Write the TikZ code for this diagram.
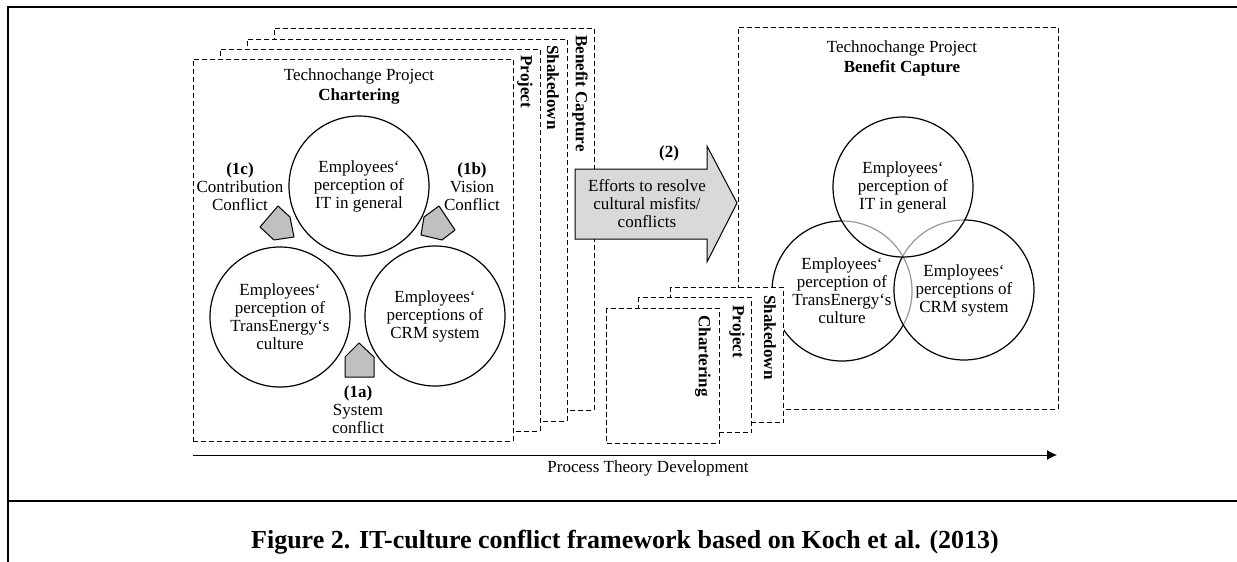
\documentclass[tikz,border=0pt]{standalone}
\usepackage{fontspec}
\setmainfont{Liberation Serif}
\usepackage{tikz}
\usetikzlibrary{arrows.meta}
\definecolor{conflictgray}{HTML}{C0C0C0}
\definecolor{effortgray}{HTML}{D9D9D9}

\begin{document}
\begin{tikzpicture}[
    x=0.5pt, y=-0.5pt,
    every node/.style={font=\fontsize{8.5}{9}\selectfont, align=center, inner sep=0pt},
    phase/.style={draw, dash pattern=on 2.5pt off 1.5pt, fill=white, line width=0.5pt, minimum width=160pt, minimum height=191pt},
    minor/.style={phase, minimum width=56.5pt, minimum height=67.5pt},
    tag/.style={rotate=-90, anchor=west, font=\bfseries\fontsize{8.5}{9}\selectfont},
    persp/.style={draw, circle, line width=0.6pt, minimum size=70pt, fill=white},
    overlap/.style={persp, fill opacity=0.6, text opacity=1},
    conflict/.style={draw, fill=conflictgray, line width=0.5pt, line join=round}
]
\useasboundingbox (0,0) rectangle (1237,562);
\draw[line width=1.25pt] (1237,7) -- (8,7) -- (8,562);
\draw[line width=1.25pt] (8,501) -- (1237,501);

\node[phase] (capture) at (434,219) {};
\node[tag] (captureTag) at (580,35) {Benefit Capture};
\node[phase] (shake) at (407,230) {};
\node[tag] (shakeTag) at (553,45) {Shakedown};
\node[phase] (project) at (380,240) {};
\node[tag] (projectTag) at (525,55) {Project};
\node[phase] (charter) at (353,250) {};
\node (charterHead) at (359,86) {Technochange Project\\[1pt]\textbf{Chartering}};

\node[persp] (itGen) at (359,186) {Employees‘\\perception of\\IT in general};
\node[persp] (culture) at (280,317) {Employees‘\\perception of\\TransEnergy‘s\\culture};
\node[persp] (crm) at (435,316) {Employees‘\\perceptions of\\CRM system};

\draw[conflict] (278,206) -- (290,217) -- (294,237) -- (274,240) -- (260,227) -- cycle;
\draw[conflict] (439,206) -- (455,230) -- (442,240) -- (421,235) -- (424,217) -- cycle;
\draw[conflict] (359,343) -- (374,357) -- (374,377) -- (345,377) -- (345,357) -- cycle;
\node (contrib) at (240,187) {\textbf{(1c)}\\Contribution\\Conflict};
\node (vision) at (472,187) {\textbf{(1b)}\\Vision\\Conflict};
\node (system) at (358,410) {\textbf{(1a)}\\System\\conflict};

\draw[line width=0.5pt, fill=effortgray] (575,169) -- (707,169) -- (707,146) -- (737,203) -- (707,262) -- (707,239) -- (575,239) -- cycle;
\node (efforts) at (647,204) {Efforts to resolve\\cultural misfits/\\conflicts};
\node (effortsNo) at (669,153) {\textbf{(2)}};

\node[phase] (bigCapture) at (898,218) {};
\node (captureHead) at (902,58) {Technochange Project\\[1pt]\textbf{Benefit Capture}};
\node[overlap] (culture2) at (842,291) {Employees‘\\perception of\\TransEnergy‘s\\culture};
\node[overlap] (crm2) at (964,290) {Employees‘\\perceptions of\\CRM system};
\node[overlap] (itGen2) at (903,187) {Employees‘\\perception of\\IT in general};

\node[minor] (shake2) at (727,355) {};
\node[tag] (shake2Tag) at (770,295) {Shakedown};
\node[minor] (project2) at (695,365) {};
\node[tag] (project2Tag) at (737,305) {Project};
\node[minor] (charter2) at (663,376) {};
\node[tag] (charter2Tag) at (703,315) {Chartering};

\coordinate (timeStart) at (193,455);
\coordinate (timeEnd) at (1057,455);
\draw[-{Latex[length=5pt,width=5pt]}, line width=0.5pt] (timeStart) -- (timeEnd);
\node (timeLabel) at (648,468) {Process Theory Development};

\node[font=\bfseries\fontsize{13}{15}\selectfont] (caption) at (625,542) {Figure 2. IT-culture conflict framework based on Koch et al. (2013)};
\end{tikzpicture}
\end{document}
